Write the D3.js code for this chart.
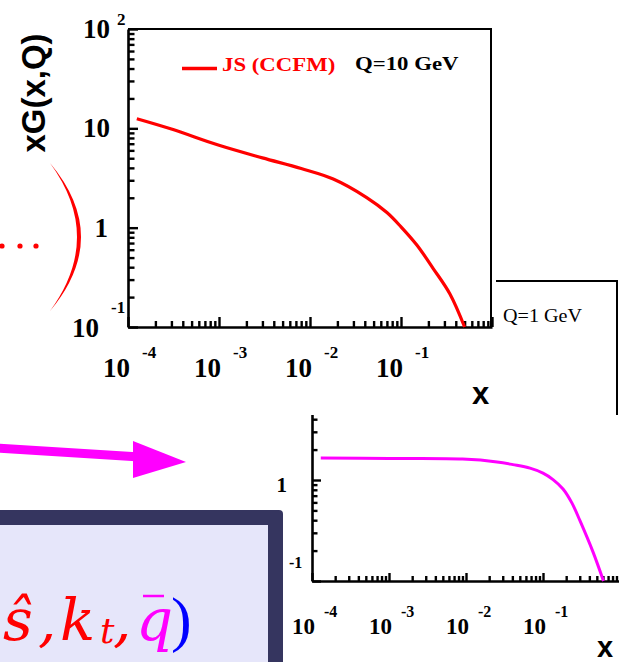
<!DOCTYPE html>
<html>
<head>
<meta charset="utf-8">
<script src="https://cdn.jsdelivr.net/npm/d3@7"></script>
<style>
  body { margin: 0; background: #fff; }
  svg { display: block; }
</style>
</head>
<body>
<div id="chart"></div>
<script>
// JS (CCFM), Q = 10 GeV
var redX = [1.25e-4, 3e-4, 1e-3, 3e-3, 8e-3, 0.018, 0.042, 0.07, 0.1, 0.15, 0.225, 0.345, 0.5];
var redY = [12.5, 9.84, 6.75, 5.04, 3.94, 3.09, 2.01, 1.42, 1.02, 0.665, 0.39, 0.215, 0.1];
// Q = 1 GeV
var magX = [1.3e-4, 1e-3, 9e-3, 0.0253, 0.0407, 0.0678, 0.1, 0.135, 0.182, 0.238, 0.303, 0.447, 0.61];
var magY = [1.65, 1.63, 1.61, 1.51, 1.42, 1.31, 1.17, 1.01, 0.815, 0.59, 0.393, 0.193, 0.1];

var xTicks = [1e-4, 1e-3, 1e-2, 1e-1];
var xTickSup = ["-4", "-3", "-2", "-1"];
var y1Ticks = [100, 10, 1, 0.1];
var y1Base = ["10", "10", "1", "10"];
var y1Sup = ["2", "", "", "-1"];
var y2Ticks = [1, 0.1];
var y2Base = ["1", "10"];
var y2Sup = ["", "-1"];

var serif = "'Liberation Serif', 'Times New Roman', serif";
var sans = "'Liberation Sans', Arial, sans-serif";

var svg = d3.select("#chart").append("svg")
    .attr("width", 619)
    .attr("height", 662);

function logTicks(e0, e1) {
  var t = [];
  for (var e = e0; e < e1; e++)
    for (var m = 1; m < 10; m++) t.push(+(m * Math.pow(10, e)).toPrecision(3));
  t.push(Math.pow(10, e1));
  return t;
}
function isMajor(v) {
  var l = Math.log10(v);
  return Math.abs(l - Math.round(l)) < 1e-6;
}

function drawAxes(g, x, y, o) {
  var bx = g.append("g")
      .attr("transform", "translate(0," + o.bottom + ")")
      .call(d3.axisBottom(x).tickValues(o.xt).tickSizeInner(-o.xMinor).tickSizeOuter(0).tickFormat(""));
  bx.selectAll(".tick line").filter(isMajor).attr("y2", -o.xMajor);

  var ly = g.append("g")
      .attr("transform", "translate(" + o.left + ",0)")
      .call(d3.axisLeft(y).tickValues(o.yt).tickSizeInner(-o.yMinor).tickSizeOuter(0).tickFormat(""));
  ly.selectAll(".tick line").filter(isMajor).attr("x2", o.yMajor);

  g.selectAll(".domain").attr("stroke", "#000").attr("stroke-width", 2.6);
  g.selectAll(".tick line").attr("stroke", "#000").attr("stroke-width", 2.4);
}

function label(g, x, y, txt, size, anchor, weight, fill) {
  return g.append("text")
      .attr("x", x).attr("y", y)
      .attr("text-anchor", anchor || "start")
      .style("font-family", serif)
      .style("font-weight", weight || "bold")
      .style("font-size", size + "px")
      .attr("fill", fill || "#000")
      .text(txt);
}

// stretched text, as on the slide
function wide(g, x, y, txt, size, sx, weight, fill) {
  return g.append("text")
      .attr("transform", "translate(" + x + "," + y + ") scale(" + sx + ",1)")
      .style("font-family", serif)
      .style("font-weight", weight || "bold")
      .style("font-size", size + "px")
      .attr("fill", fill || "#000")
      .text(txt);
}

var line = d3.line().curve(d3.curveCatmullRom.alpha(0.5));

// ---------- second panel (Q = 1 GeV), sits behind the first ----------
var x2 = d3.scaleLog().domain([1e-4, 1]).range([312, 620]);
var y2 = d3.scaleLog().domain([0.1, 10]).range([581, 379]);
var p2 = svg.append("g");

p2.append("path")
    .attr("d", "M312,281H617V415")
    .attr("fill", "none").attr("stroke", "#000").attr("stroke-width", 2);

drawAxes(p2, x2, y2, {
  bottom: 581, left: 312,
  xt: logTicks(-4, 0), xMinor: 5, xMajor: 8,
  yt: logTicks(-1, 1), yMinor: 5.5, yMajor: 9
});

p2.append("path")
    .attr("d", line(magX.map(function(d, i) { return [x2(d), y2(magY[i])]; })))
    .attr("fill", "none").attr("stroke", "#ff00ff").attr("stroke-width", 3);

xTicks.forEach(function(v, i) {
  label(p2, x2(v) + 3, 634, "10", 23, "end");
  label(p2, x2(v) + 12, 617, xTickSup[i], 16);
});
y2Ticks.forEach(function(v, i) {
  if (y2Sup[i]) {
    label(p2, 280, y2(v) + 10, y2Base[i], 23, "end");
    label(p2, 289, y2(v) - 13, y2Sup[i], 16);
  } else {
    label(p2, 287, y2(v) + 12, y2Base[i], 21, "end");
  }
});
wide(p2, 503, 322, "Q=1 GeV", 19, 1.06, "normal");
p2.append("text")
    .attr("x", 597).attr("y", 657)
    .style("font-family", sans).style("font-weight", "bold").style("font-size", "29px")
    .text("x");

// white sheet of the first panel
svg.append("rect").attr("x", 0).attr("y", 0).attr("width", 496).attr("height", 415).attr("fill", "#fff");

// ---------- first panel (Q = 10 GeV) ----------
var x1 = d3.scaleLog().domain([1e-4, 1]).range([128, 492]);
var y1 = d3.scaleLog().domain([0.1, 100]).range([327, 29]);
var p1 = svg.append("g");

p1.append("path")
    .attr("d", "M128,29H491V327")
    .attr("fill", "none").attr("stroke", "#000").attr("stroke-width", 2);

drawAxes(p1, x1, y1, {
  bottom: 327, left: 128,
  xt: logTicks(-4, 0), xMinor: 6, xMajor: 10,
  yt: logTicks(-1, 2), yMinor: 6.5, yMajor: 10
});

p1.append("path")
    .attr("d", line(redX.map(function(d, i) { return [x1(d), y1(redY[i])]; })))
    .attr("fill", "none").attr("stroke", "#ff0000").attr("stroke-width", 3.2);

xTicks.forEach(function(v, i) {
  label(p1, x1(v) + 2, 377, "10", 27, "end");
  label(p1, x1(v) + 14, 358, xTickSup[i], 17);
});
y1Ticks.forEach(function(v, i) {
  var yy = y1(v);
  if (v < 1) {
    label(p1, 99, yy + 10, y1Base[i], 27, "end");
    label(p1, 111, yy - 14, y1Sup[i], 17);
  } else {
    label(p1, v === 1 ? 108 : 110, yy + 9, y1Base[i], 27, "end");
    if (y1Sup[i]) label(p1, 117, yy - 4, y1Sup[i], 17);
  }
});

// legend
p1.append("line")
    .attr("x1", 182).attr("x2", 217).attr("y1", 68.5).attr("y2", 68.5)
    .attr("stroke", "#ff0000").attr("stroke-width", 3.5);
wide(p1, 222, 71, "JS (CCFM)", 19, 1.2, "bold", "#ff0000");
wide(p1, 355, 70, "Q=10 GeV", 19, 1.2);

// axis titles
p1.append("text")
    .attr("transform", "translate(45,93) rotate(-90)")
    .attr("text-anchor", "middle")
    .style("font-family", sans).style("font-weight", "bold").style("font-size", "33px")
    .text("xG(x,Q)");
p1.append("text")
    .attr("x", 472).attr("y", 404)
    .style("font-family", sans).style("font-weight", "bold").style("font-size", "31px")
    .text("x");

// ---------- slide decorations ----------
svg.append("path")
    .attr("d", "M50,163Q112,237 50,311Q104,237 50,163Z")
    .attr("fill", "#ff0000");
svg.selectAll(".dot").data([2, 20, 36]).enter().append("circle")
    .attr("cx", function(d) { return d; }).attr("cy", 246).attr("r", 2.6)
    .attr("fill", "#ff0000");

svg.append("line")
    .attr("x1", -5).attr("y1", 448).attr("x2", 140).attr("y2", 457)
    .attr("stroke", "#ff00ff").attr("stroke-width", 9);
svg.append("path")
    .attr("d", "M133,441L186,462L133,478Z")
    .attr("fill", "#ff00ff");

svg.append("rect")
    .attr("x", -20).attr("y", 510).attr("width", 303).attr("height", 200).attr("rx", 4)
    .attr("fill", "#35355f");
svg.append("rect")
    .attr("x", -20).attr("y", 525).attr("width", 288).attr("height", 200)
    .attr("fill", "#e6e6fa");

var mathFont = "'DejaVu Serif', serif";
var math = svg.append("g")
    .style("font-family", mathFont).style("font-style", "italic").style("font-size", "58px");
math.append("text").attr("x", 3).attr("y", 640).attr("fill", "#ff0000").text("\u015D");
math.append("text").attr("x", 38).attr("y", 640).attr("fill", "#ff0000").text(",");
math.append("text").attr("x", 60).attr("y", 640).attr("fill", "#ff0000").text("k");
math.append("text").attr("x", 100).attr("y", 643).attr("fill", "#ff0000").style("font-size", "36px").text("t");
math.append("text").attr("x", 113).attr("y", 640).attr("fill", "#ff0000").text(",");
math.append("text").attr("x", 136).attr("y", 640).attr("fill", "#ff00ff").text("q");
math.append("line").attr("x1", 143).attr("x2", 164).attr("y1", 596).attr("y2", 596)
    .attr("stroke", "#ff00ff").attr("stroke-width", 2.5);
math.append("text").attr("x", 171).attr("y", 640).attr("fill", "#0000ff")
    .style("font-family", serif).style("font-style", "normal").style("font-size", "62px").text(")");
</script>
</body>
</html>
